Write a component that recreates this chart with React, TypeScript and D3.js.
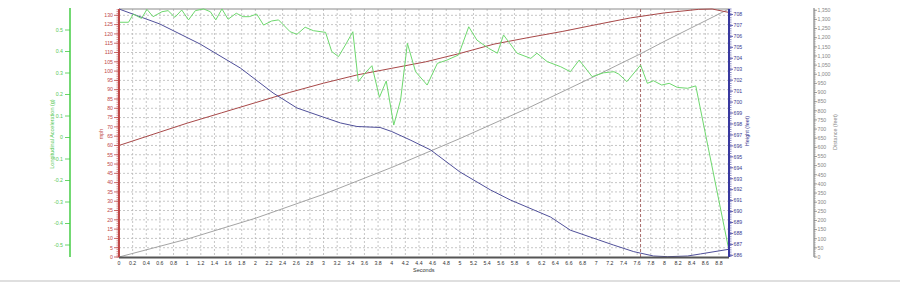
import React from 'react';
import * as d3 from 'd3';

const W = 900, H = 282;
const PL = 119, PR = 728.5, PT = 9, PB = 257;

// Speed (mph)
const speedTime = [0, 0.5, 1.0, 1.5, 2.0, 2.5, 3.0, 3.5, 4.0, 4.5, 5.0, 5.5, 6.0, 6.5, 7.0, 7.5, 8.0, 8.5, 8.7, 8.94];
const speedMph = [60, 66, 72, 77.5, 83, 88.5, 93.5, 98, 101.5, 105, 109.5, 114.5, 118, 121.3, 125, 128.6, 131.3, 133.2, 133.4, 131.6];

// Height (feet)
const heightTime = [0, 0.6, 1.19, 1.78, 2.26, 2.61, 2.99, 3.25, 3.49, 3.83, 4.0, 4.27, 4.57, 5.0, 5.45, 5.74, 6.33, 6.62, 7.25, 7.55, 7.84, 8.05, 8.34, 8.53, 8.94];
const heightFeet = [708.5, 707.13, 705.3, 703.11, 700.83, 699.46, 698.64, 698.09, 697.77, 697.68, 697.31, 696.54, 695.63, 693.62, 691.97, 691.06, 689.5, 688.3, 686.95, 686.34, 685.94, 685.88, 685.94, 686.13, 686.55];

// Distance (feet)
const distTime = [0, 1, 2, 3, 4, 5, 6, 7, 7.65, 8, 8.94];
const distFeet = [0, 98, 212, 343, 490, 648, 815, 993, 1112, 1180, 1356];

// Longitudinal acceleration (g)
const accelTime = [0, 0.14, 0.21, 0.33, 0.41, 0.5, 0.63, 0.72, 0.82, 0.92, 1.02, 1.12, 1.24, 1.34, 1.42, 1.51, 1.6, 1.72, 1.82, 1.91, 2.02, 2.12, 2.24, 2.34, 2.51, 2.61, 2.73, 2.85, 3.03, 3.12, 3.22, 3.32, 3.43, 3.51, 3.61, 3.71, 3.82, 3.92, 4.03, 4.13, 4.23, 4.35, 4.52, 4.67, 4.81, 4.98, 5.13, 5.25, 5.42, 5.55, 5.64, 5.84, 6.04, 6.13, 6.28, 6.48, 6.62, 6.75, 6.94, 7.11, 7.26, 7.33, 7.45, 7.65, 7.75, 7.84, 7.96, 8.07, 8.19, 8.34, 8.46, 8.94];
const accelG = [0.536, 0.536, 0.574, 0.554, 0.596, 0.562, 0.585, 0.59, 0.559, 0.593, 0.547, 0.59, 0.598, 0.585, 0.547, 0.598, 0.55, 0.578, 0.562, 0.562, 0.574, 0.523, 0.542, 0.547, 0.492, 0.48, 0.513, 0.497, 0.489, 0.4, 0.376, 0.43, 0.492, 0.26, 0.3, 0.334, 0.187, 0.263, 0.058, 0.174, 0.438, 0.306, 0.244, 0.345, 0.36, 0.384, 0.515, 0.453, 0.415, 0.392, 0.477, 0.392, 0.368, 0.392, 0.353, 0.329, 0.306, 0.36, 0.283, 0.301, 0.306, 0.295, 0.26, 0.337, 0.252, 0.264, 0.244, 0.252, 0.233, 0.229, 0.24, -0.515];

const markerTime = 7.65;

const timeTicks = d3.range(0, 45).map(i => +(i * 0.2).toFixed(1));
const mphTicks = d3.range(0, 27).map(i => i * 5);
const heightTicks = d3.range(686, 709);
const distTicks = d3.range(0, 28).map(i => i * 50);
const accelTicks = [-0.5, -0.4, -0.3, -0.2, -0.1, 0, 0.1, 0.2, 0.3, 0.4, 0.5];

const FONT = 'Liberation Sans, Arial, sans-serif';
const FS = 5.2;

export default function App() {
  const x = d3.scaleLinear().domain([0, 8.94]).range([PL, PR]);
  const yMph = d3.scaleLinear().domain([0, 133.4]).range([PB, PT]);
  const yH = d3.scaleLinear().domain([685.85, 708.5]).range([PB, PT]);
  const yD = d3.scaleLinear().domain([0, 1357]).range([PB, PT]);
  const yG = d3.scaleLinear().domain([-0.5558, 0.5977]).range([PB, PT]);

  const mk = (ts: number[], vs: number[], ys: d3.ScaleLinear<number, number>) =>
    d3.line<number>().x((_, i) => x(ts[i])).y((v) => ys(v))(vs) || '';

  const fmtComma = d3.format(',');
  const greenAxisX = 70;
  const blueAxisX = 729;
  const grayAxisX = 814;

  return (
    <div style={{ position: 'absolute', left: 0, top: 0 }}>
      <svg width={W} height={H} style={{ display: 'block', background: '#fff' }} fontFamily={FONT}>
        <rect x={0} y={0} width={W} height={H} fill="#fff" />
        {/* grid */}
        {timeTicks.filter(t => t > 0).map(t => (
          <line key={'vg' + t} x1={x(t)} x2={x(t)} y1={PT} y2={PB} stroke="#b8b8b8" strokeWidth={0.8} strokeDasharray="2,2" />
        ))}
        {mphTicks.filter(v => v > 0).map(v => (
          <line key={'hg' + v} x1={PL} x2={PR} y1={yMph(v)} y2={yMph(v)} stroke="#b8b8b8" strokeWidth={0.8} strokeDasharray="2,2" />
        ))}
        {/* top border */}
        <line x1={PL} x2={blueAxisX} y1={PT} y2={PT} stroke="#8a8a8a" strokeWidth={1} />
        {/* marker */}
        <line x1={x(markerTime)} x2={x(markerTime)} y1={PT} y2={PB} stroke="#a86a6a" strokeWidth={1} strokeDasharray="3,2" />

        {/* series */}
        <path d={mk(distTime, distFeet, yD)} fill="none" stroke="#9a9a9a" strokeWidth={0.9} />
        <path d={mk(speedTime, speedMph, yMph)} fill="none" stroke="#a84848" strokeWidth={1} />
        <path d={mk(heightTime, heightFeet, yH)} fill="none" stroke="#50509a" strokeWidth={1} />
        <path d={mk(accelTime, accelG, yG)} fill="none" stroke="#6ed86e" strokeWidth={1} />

        {/* x axis */}
        <line x1={PL} x2={blueAxisX} y1={PB + 0.5} y2={PB + 0.5} stroke="#555" strokeWidth={2} />
        {timeTicks.map(t => (
          <text key={'xt' + t} x={x(t)} y={265} fontSize={FS} fill="#333" textAnchor="middle">{String(t)}</text>
        ))}
        <text x={(PL + PR) / 2} y={272} fontSize={5.5} fill="#333" textAnchor="middle">Seconds</text>

        {/* red mph axis */}
        <line x1={PL} x2={PL} y1={PT} y2={PB} stroke="#c04848" strokeWidth={2} />
        {d3.range(0, 134).map(v => (
          <line key={'rm' + v} x1={PL - 2.5} x2={PL} y1={yMph(v)} y2={yMph(v)} stroke="#c04848" strokeWidth={0.6} />
        ))}
        {mphTicks.map(v => (
          <g key={'rt' + v}>
            <line x1={PL - 5} x2={PL} y1={yMph(v)} y2={yMph(v)} stroke="#c04848" strokeWidth={0.8} />
            <text x={PL - 6} y={yMph(v) + 1.8} fontSize={FS} fill="#c04848" textAnchor="end">{v}</text>
          </g>
        ))}
        <text transform={`translate(102.5,134) rotate(-90)`} fontSize={5.5} fill="#c04848" textAnchor="middle">mph</text>

        {/* green accel axis */}
        <line x1={greenAxisX} x2={greenAxisX} y1={8} y2={PB} stroke="#44cc44" strokeWidth={1.5} />
        {accelTicks.map(v => (
          <g key={'gt' + v}>
            <line x1={greenAxisX - 5} x2={greenAxisX} y1={yG(v)} y2={yG(v)} stroke="#44cc44" strokeWidth={0.8} />
            <text x={greenAxisX - 7} y={yG(v) + 1.8} fontSize={FS} fill="#55c855" textAnchor="end">{String(v)}</text>
          </g>
        ))}
        <text transform={`translate(53.5,134) rotate(-90)`} fontSize={5.5} fill="#55c855" textAnchor="middle">Longitudinal Acceleration (g)</text>

        {/* blue height axis */}
        <line x1={blueAxisX} x2={blueAxisX} y1={PT} y2={PB} stroke="#3a3aa0" strokeWidth={2} />
        {d3.range(0, 114).map(i => 685.9 + i * 0.2).map(v => (
          <line key={'bm' + v} x1={blueAxisX} x2={blueAxisX + 2.5} y1={yH(v)} y2={yH(v)} stroke="#3a3aa0" strokeWidth={0.6} />
        ))}
        {heightTicks.map(v => (
          <g key={'bt' + v}>
            <line x1={blueAxisX} x2={blueAxisX + 4} y1={yH(v)} y2={yH(v)} stroke="#3a3aa0" strokeWidth={0.8} />
            <text x={blueAxisX + 4.5} y={yH(v) + 1.8} fontSize={FS} fill="#3a3a90">{v}</text>
          </g>
        ))}
        <text transform={`translate(749,131) rotate(-90)`} fontSize={5.5} fill="#3a3a90" textAnchor="middle">Height (feet)</text>

        {/* gray distance axis */}
        <line x1={grayAxisX} x2={grayAxisX} y1={8} y2={PB} stroke="#888" strokeWidth={1.2} />
        {d3.range(0, 136).map(i => i * 10).map(v => (
          <line key={'dm' + v} x1={grayAxisX} x2={grayAxisX + 1.8} y1={yD(v)} y2={yD(v)} stroke="#888" strokeWidth={0.5} />
        ))}
        {distTicks.map(v => (
          <g key={'dt' + v}>
            <line x1={grayAxisX} x2={grayAxisX + 3} y1={yD(v)} y2={yD(v)} stroke="#888" strokeWidth={0.8} />
            <text x={grayAxisX + 3.5} y={yD(v) + 1.8} fontSize={FS} fill="#888">{fmtComma(v)}</text>
          </g>
        ))}
        <text transform={`translate(836.5,132) rotate(-90)`} fontSize={5.5} fill="#888" textAnchor="middle">Distance (feet)</text>

        {/* bottom border */}
        <line x1={0} x2={W} y1={281} y2={281} stroke="#d4d4d4" strokeWidth={1.5} />
      </svg>
    </div>
  );
}
